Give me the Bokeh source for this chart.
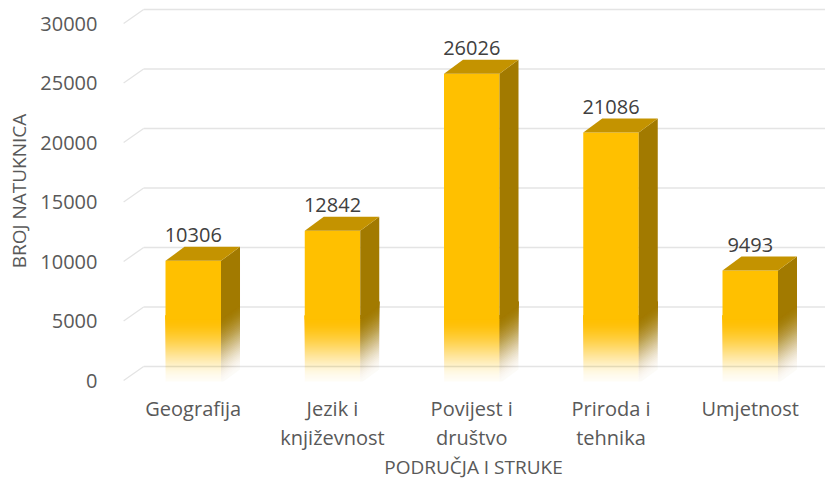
import numpy as np
from bokeh.plotting import figure
from bokeh.models import Range1d, FixedTicker, NumeralTickFormatter, ColumnDataSource
from bokeh.core.properties import value
from bokeh.embed import file_html
from bokeh.resources import INLINE

# ---------------- data ----------------
categories = ["Geografija", "Jezik i\nknjiževnost", "Povijest i\ndruštvo", "Priroda i\ntehnika", "Umjetnost"]
values = [10306, 12842, 26026, 21086, 9493]
y_ticks = [0, 5000, 10000, 15000, 20000, 25000, 30000]
y_title = "BROJ NATUKNICA"
x_title = "PODRUČJA I STRUKE"

# ---------------- layout / style ----------------
FONT = "Open Sans"
W, H = 825, 483
BL, BR, BT, BB = 121, 0, 0, 102
frame_w = W - BL - BR
frame_h = H - BT - BB
PX_X = 139.25          # px per category
PX_Y = 0.0119          # px per value unit
x_start = -0.5153
x_end = x_start + frame_w / PX_X
zero_px = 380          # value 0 in frame px from top
y_top = zero_px / PX_Y
y_bot = (zero_px - frame_h) / PX_Y

ux = 1.0 / PX_X
uy = 1.0 / PX_Y

FRONT = "#FFC000"
SIDE = "#A27A00"
TOP = "#C49300"
GRID = "#E4E4E4"

half_w = 27.75 * ux
dxb, dyb = 19 * ux, 14 * uy      # bar depth
dxg, dyg = 20 * ux, 14 * uy      # wall depth
drop = 3 * uy
fade_h = 68 * uy
N = 34

p = figure(width=W, height=H, x_range=Range1d(x_start, x_end), y_range=Range1d(y_bot, y_top),
           output_backend="svg", toolbar_location=None,
           min_border_left=BL, min_border_right=BR, min_border_top=BT, min_border_bottom=BB)
p.outline_line_color = None
p.xgrid.visible = False
p.ygrid.visible = False
p.background_fill_color = "white"
p.border_fill_color = "white"

# ---------------- back wall grid ----------------
gx0 = -0.5
p.segment(x0=[gx0] * len(y_ticks), y0=y_ticks,
          x1=[gx0 + dxg] * len(y_ticks), y1=[t + dyg for t in y_ticks],
          line_color=GRID, line_width=1.3)
p.segment(x0=[gx0 + dxg] * len(y_ticks), y0=[t + dyg for t in y_ticks],
          x1=[x_end + 1] * len(y_ticks), y1=[t + dyg for t in y_ticks],
          line_color=GRID, line_width=1.3)

# ---------------- 3D bars ----------------
def smooth(t):
    return 3 * t * t - 2 * t * t * t

targets = [0.03 + 0.97 * smooth((k + 0.5) / N) for k in range(N)]
incs = []
prev = 0.0
for A in targets:
    incs.append(1 - (1 - A) / (1 - prev))
    prev = A

xs, ys, fc, fa = [], [], [], []
for i, v in enumerate(values):
    xl, xr = i - half_w, i + half_w
    yb, yt = 0 - drop, v - drop
    ysplit = yb + fade_h
    ysol = ysplit - 4 * uy
    for k in range(N):
        y0 = yb + fade_h * k / N
        y1 = ysplit
        xs.append([xl, xr, xr, xl]); ys.append([y0, y0, y1, y1]); fc.append(FRONT); fa.append(incs[k])
        xs.append([xr, xr + dxb, xr + dxb, xr]); ys.append([y0, y0 + dyb, y1 + dyb, y1]); fc.append(SIDE); fa.append(incs[k])
    xs.append([xl, xr, xr, xl]); ys.append([ysol, ysol, yt, yt]); fc.append(FRONT); fa.append(1.0)
    xs.append([xr, xr + dxb, xr + dxb, xr]); ys.append([ysol, ysol + dyb, yt + dyb, yt]); fc.append(SIDE); fa.append(1.0)
    xs.append([xl, xl + dxb, xr + dxb, xr]); ys.append([yt, yt + dyb, yt + dyb, yt]); fc.append(TOP); fa.append(1.0)

src = ColumnDataSource(dict(xs=xs, ys=ys, fc=fc, fa=fa))
p.patches("xs", "ys", source=src, fill_color="fc", fill_alpha="fa", line_color=None)

# value labels
p.text(x=list(range(len(values))), y=[v - drop + dyb + 12 * uy for v in values],
       text=[str(v) for v in values], text_align="center", text_baseline="middle",
       text_font=value(FONT), text_font_size="20px", text_color="#404040")

# ---------------- axes ----------------
xa = p.xaxis[0]
xa.ticker = FixedTicker(ticks=list(range(len(categories))))
xa.major_label_overrides = {i: c for i, c in enumerate(categories)}
xa.axis_line_color = None
xa.major_tick_line_color = None
xa.minor_tick_line_color = None
xa.major_label_standoff = 7
xa.major_label_text_font = FONT
xa.major_label_text_font_size = "20px"
xa.major_label_text_color = "#595959"
xa.major_label_text_line_height = 1.1
xa.axis_label = x_title
xa.axis_label_standoff = 0
xa.axis_label_text_font = FONT
xa.axis_label_text_font_size = "19px"
xa.axis_label_text_font_style = "normal"
xa.axis_label_text_line_height = 1.0
xa.axis_label_text_color = "#595959"

ya = p.yaxis[0]
ya.ticker = FixedTicker(ticks=y_ticks)
ya.formatter = NumeralTickFormatter(format="0")
ya.axis_line_color = None
ya.major_tick_line_color = None
ya.minor_tick_line_color = None
ya.major_label_standoff = 18
ya.major_label_text_font = FONT
ya.major_label_text_font_size = "20px"
ya.major_label_text_color = "#595959"
ya.axis_label = y_title
ya.axis_label_standoff = 5
ya.axis_label_text_font = FONT
ya.axis_label_text_font_size = "19px"
ya.axis_label_text_font_style = "normal"
ya.axis_label_text_line_height = 1.0
ya.axis_label_text_color = "#595959"

open("out.html", "w").write(file_html(p, INLINE))
